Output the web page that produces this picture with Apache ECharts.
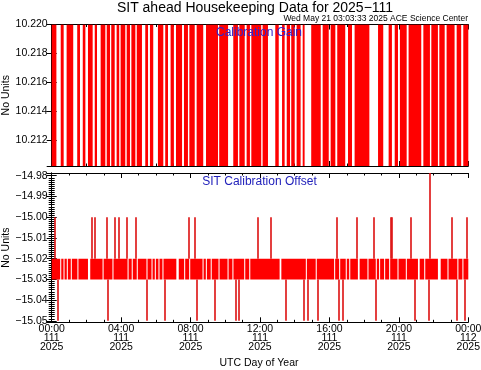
<!DOCTYPE html>
<html>
<head>
<meta charset="utf-8">
<script src="https://cdn.jsdelivr.net/npm/echarts@6/dist/echarts.min.js"></script>
<style>
html,body{margin:0;padding:0;background:#fff;}
#chart{width:481px;height:370px;}
</style>
</head>
<body>
<div id="chart"></div>
<script>
// ---------- data (hours of UTC day 111) ----------
const xTickLabels = ['00:00\n111\n2025','04:00\n111\n2025','08:00\n111\n2025','12:00\n111\n2025','16:00\n111\n2025','20:00\n111\n2025','00:00\n112\n2025'];
const gainTicks = [10.212, 10.214, 10.216, 10.218, 10.220];
const offsetTicks = [-15.05, -15.04, -15.03, -15.02, -15.01, -15.00, -14.99, -14.98];

// Calibration gain toggles between two levels; these are the time spans of dense toggling
const gainLevels = [10.2102, 10.2200];
const gainBands = [
  [0,0.27],[0.52,0.69],[0.86,1.24],[1.47,1.63],[1.79,1.94],[2.09,2.36],[2.48,2.61],[2.82,3.09],
  [3.17,3.36],[3.43,3.63],[3.74,3.89],[3.97,4.24],[4.32,4.51],[4.59,4.82],[4.90,5.20],[5.39,5.55],
  [5.66,5.85],[6.12,6.43],[6.54,6.70],[6.85,7.04],[7.16,7.51],[7.62,7.85],[7.93,8.24],[8.35,8.73],
  [8.89,9.58],[9.65,10.16],[10.46,10.73],[10.81,11.12],[11.23,11.42],[11.50,12.07],[12.15,12.46],
  [12.88,13.08],[13.27,13.42],[13.54,13.73],[13.80,14.00],[14.11,14.34],[14.46,14.57],[14.95,15.50],
  [15.61,15.96],[16.07,16.34],[16.45,16.91],[17.07,17.30],[17.45,18.30],[18.80,19.10],[19.41,19.60],
  [19.76,19.95],[20.06,20.45],[20.56,21.29],[21.41,21.79],[21.87,22.25],[22.33,22.64],[22.75,23.21],
  [23.33,23.59],[23.71,24]
];

// Calibration offset toggles between two levels densely
const offsetLevels = [-15.03, -15.02];
const offsetBands = [
  [0,0.49],[0.55,0.68],[0.74,0.87],[0.93,1.10],[1.16,1.48],[1.54,2.09],[2.22,2.93],[2.99,3.50],
  [3.56,4.37],[4.43,4.61],[4.67,4.90],[4.96,5.46],[5.52,5.75],[5.81,5.94],[6.00,6.15],[6.21,6.38],
  [6.44,7.18],[7.32,7.63],[7.69,7.92],[7.98,8.69],[8.75,8.88],[8.94,9.16],[9.22,9.61],[9.67,10.13],
  [10.19,10.41],[10.47,11.09],[11.15,11.38],[11.44,13.13],[13.23,14.64],[14.70,15.21],[15.27,16.27],
  [16.33,16.56],[16.62,16.94],[17.00,17.14],[17.20,17.64],[17.74,18.19],[18.25,18.67],[18.73,18.86],
  [18.92,19.15],[19.21,19.44],[19.50,19.92],[19.98,20.40],[20.46,21.10],[21.20,21.46],[21.52,22.25],
  [22.41,22.80],[22.86,23.37],[23.43,23.66],[23.72,24]
];
// isolated excursions [hour, value]
const offsetSpikes = [
  [0.20,-15.00],[0.38,-15.05],[2.30,-15.00],[2.48,-15.00],[3.20,-15.00],[3.24,-15.05],[3.67,-15.00],
  [3.86,-15.00],[4.32,-15.00],[4.86,-15.00],[5.51,-15.05],[6.53,-15.05],[7.93,-15.00],[8.24,-15.00],
  [8.37,-15.05],[9.39,-15.05],[10.64,-15.05],[10.77,-15.05],[11.86,-15.00],[12.61,-15.00],
  [13.50,-15.05],[14.52,-15.05],[14.75,-15.05],[15.36,-15.05],[16.42,-15.00],[16.57,-15.05],
  [16.76,-15.05],[17.59,-15.00],[18.57,-15.00],[18.70,-15.05],[19.54,-15.00],[19.60,-15.00],
  [20.70,-15.00],[20.91,-15.05],[21.72,-15.05],[21.79,-14.9787],[23.08,-15.00],[23.36,-15.05],
  [23.79,-15.05],[23.91,-15.00]
];

// ---------- chart ----------
const FONT = 'Liberation Sans';
const chart = echarts.init(document.getElementById('chart'), null, {renderer:'canvas'});
const minus = s => s.replace('-', '\u2212');

function bandItem(params, api) {
  const p0 = api.coord([api.value(0), api.value(2)]);
  const p1 = api.coord([api.value(1), api.value(3)]);
  return {type:'rect', shape:{x:p0[0], y:p1[1], width:Math.max(1, p1[0]-p0[0]), height:p0[1]-p1[1]},
          style:{fill:'#ff0000'}};
}
function spikeItem(params, api) {
  const v = api.value(1);
  const base = v > -15.025 ? offsetLevels[1] : offsetLevels[0];
  const a = api.coord([api.value(0), base]);
  const b = api.coord([api.value(0), v]);
  const x = Math.round(a[0]);
  return {type:'line', shape:{x1:x, y1:a[1], x2:x, y2:b[1]}, style:{stroke:'#dd1010', lineWidth:1.6}};
}

const axisCommon = {
  axisLine:{show:true, lineStyle:{color:'#000', width:1}},
  splitLine:{show:false}
};
function xAx(grid, pos, labels) {
  return Object.assign({}, axisCommon, {
    type:'value', gridIndex:grid, position:pos, min:0, max:24, interval:4,
    axisTick:{show:true, inside:true, length:5, lineStyle:{color:'#000'}},
    minorTick:{show:true, splitNumber:4, length:2.5, lineStyle:{color:'#000'}},
    axisLabel: labels ? {show:true, fontFamily:FONT, fontSize:10.5, color:'#000', lineHeight:8.6, margin:3,
      formatter:v => xTickLabels[Math.round(v/4)]} : {show:false}
  });
}
function yAx(grid, pos, labels, min, max, split, minor, name) {
  return Object.assign({}, axisCommon, {
    type:'value', gridIndex:grid, position:pos, min:min, max:max, splitNumber:split,
    axisTick:{show:true, inside:true, length:5, lineStyle:{color:'#000'}},
    minorTick:{show:minor, splitNumber:10, length:3, lineStyle:{color:'#000'}},
    name: name || '', nameLocation:'middle', nameGap:40, nameMoveOverlap:false,
    nameTextStyle:{fontFamily:FONT, fontSize:10.5, color:'#000'},
    axisLabel: labels ? {show:true, fontFamily:FONT, fontSize:10.5, color:'#000', margin:4,
      showMinLabel:false, showMaxLabel: grid === 0,
      formatter:v => {
        if (grid === 0) { return gainTicks.some(t => Math.abs(t - v) < 1e-6) ? v.toFixed(3) : ''; }
        return offsetTicks.some(t => Math.abs(t - v) < 1e-6) ? minus(v.toFixed(2)) : '';
      }} : {show:false}
  });
}

const option = {
  animation:false,
  backgroundColor:'#fff',
  grid:[
    {left:51.7, right:12.7, top:24.5, height:141.5, containLabel:false, outerBoundsMode:'none'},
    {left:51.7, right:12.7, top:173, height:149.3, containLabel:false, outerBoundsMode:'none'}
  ],
  xAxis:[ xAx(0,'bottom',false), xAx(0,'top',false), xAx(1,'bottom',true), xAx(1,'top',false) ],
  yAxis:[
    yAx(0,'left',true,gainLevels[0],gainLevels[1],5,false,'No Units'),
    yAx(0,'right',false,gainLevels[0],gainLevels[1],5,false),
    yAx(1,'left',true,-15.0507,-14.9787,7,true,'No Units'),
    yAx(1,'right',false,-15.0507,-14.9787,7,true)
  ],
  series:[
    {type:'custom', xAxisIndex:0, yAxisIndex:0, clip:true, renderItem:bandItem,
     data:gainBands.map(b => [b[0], b[1], gainLevels[0], gainLevels[1]])},
    {type:'custom', xAxisIndex:2, yAxisIndex:2, clip:true, renderItem:bandItem,
     data:offsetBands.map(b => [b[0], b[1], offsetLevels[0], offsetLevels[1]])},
    {type:'custom', xAxisIndex:2, yAxisIndex:2, clip:true, renderItem:spikeItem,
     data:offsetSpikes}
  ],
  graphic:[
    {type:'text', x:255, y:8, style:{text:'SIT ahead Housekeeping Data for 2025\u2212111', font:'14px "'+FONT+'"', fill:'#000', textAlign:'center', textVerticalAlign:'middle'}},
    {type:'text', x:468, y:19, style:{text:'Wed May 21 03:03:33 2025 ACE Science Center', font:'8.5px "'+FONT+'"', fill:'#000', textAlign:'right', textVerticalAlign:'middle'}, z:10},
    {type:'text', x:259, y:33, style:{text:'Calibration Gain', font:'12px "'+FONT+'"', fill:'#3322cc', textAlign:'center', textVerticalAlign:'middle'}, z:10},
    {type:'text', x:259.5, y:182, style:{text:'SIT Calibration Offset', font:'12px "'+FONT+'"', fill:'#2222bb', textAlign:'center', textVerticalAlign:'middle'}, z:10},
    {type:'text', x:259, y:363, style:{text:'UTC Day of Year', font:'10.5px "'+FONT+'"', fill:'#000', textAlign:'center', textVerticalAlign:'middle'}}
  ]
};
chart.setOption(option);
</script>
</body>
</html>
